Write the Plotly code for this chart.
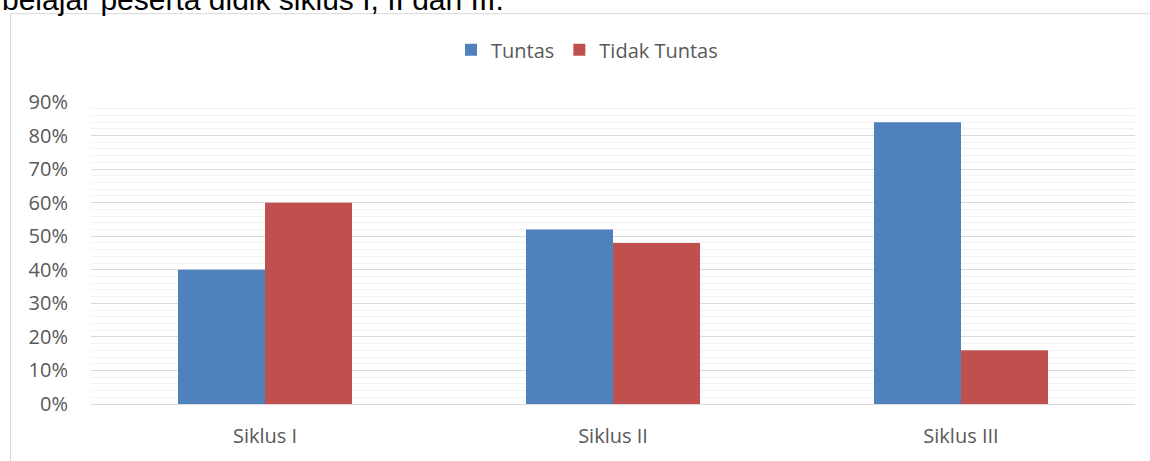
import plotly.graph_objects as go

categories = ["Siklus I", "Siklus II", "Siklus III"]
tuntas = [0.40, 0.52, 0.84]
tidak_tuntas = [0.60, 0.48, 0.16]
series_names = ["Tuntas", "Tidak Tuntas"]
heading = "belajar peserta didik siklus I, II dan III."

W, H = 1150, 461
L, R, T, B = 91, 15, 102, 53
plot_h = H - T - B
plot_w = W - L - R

def px_x(p):
    return (p - L) / plot_w

def px_y(p):
    return (H - B - p) / plot_h

FONT = "Open Sans"
GREY = "#595959"
FS = 20

fig = go.Figure()
fig.add_trace(go.Bar(x=categories, y=tuntas, name=series_names[0],
                     marker=dict(color="#4F81BD", line=dict(width=0))))
fig.add_trace(go.Bar(x=categories, y=tidak_tuntas, name=series_names[1],
                     marker=dict(color="#C0504D", line=dict(width=0))))

fig.update_layout(
    width=W, height=H,
    margin=dict(l=L, r=R, t=T, b=B, pad=0),
    paper_bgcolor="white", plot_bgcolor="white",
    barmode="group", bargap=0.5, bargroupgap=0,
    font=dict(family=FONT, size=FS, color=GREY),
    legend=dict(orientation="h", x=px_x(587), xanchor="center",
                y=px_y(49), yanchor="middle",
                font=dict(family=FONT, size=FS, color=GREY),
                itemwidth=30, tracegroupgap=0),
    showlegend=True,
)
fig.update_xaxes(showgrid=False, showline=True, linecolor="#d9d9d9", linewidth=1,
                 ticks="", ticklabelstandoff=14,
                 tickfont=dict(family=FONT, size=FS, color=GREY))
fig.update_yaxes(range=[0, 0.9], dtick=0.1, tickformat=".0%",
                 showgrid=True, gridcolor="#d9d9d9", gridwidth=1,
                 zeroline=False, showline=False, ticks="",
                 ticklabelstandoff=22,
                 minor=dict(dtick=0.02, showgrid=True, gridcolor="#f2f2f2", gridwidth=1),
                 tickfont=dict(family=FONT, size=FS, color=GREY))

# chart frame
fig.add_shape(type="rect", xref="paper", yref="paper",
              x0=px_x(10.5), x1=px_x(1200), y0=px_y(520), y1=px_y(12.5),
              line=dict(color="#d9d9d9", width=1), fillcolor="rgba(0,0,0,0)", layer="below")

fig.add_annotation(text=heading, xref="paper", yref="paper",
                   x=px_x(0), xanchor="left", y=px_y(17), yanchor="bottom",
                   showarrow=False,
                   font=dict(family="Liberation Sans", size=30, color="black"))

fig.write_html("out.html")
